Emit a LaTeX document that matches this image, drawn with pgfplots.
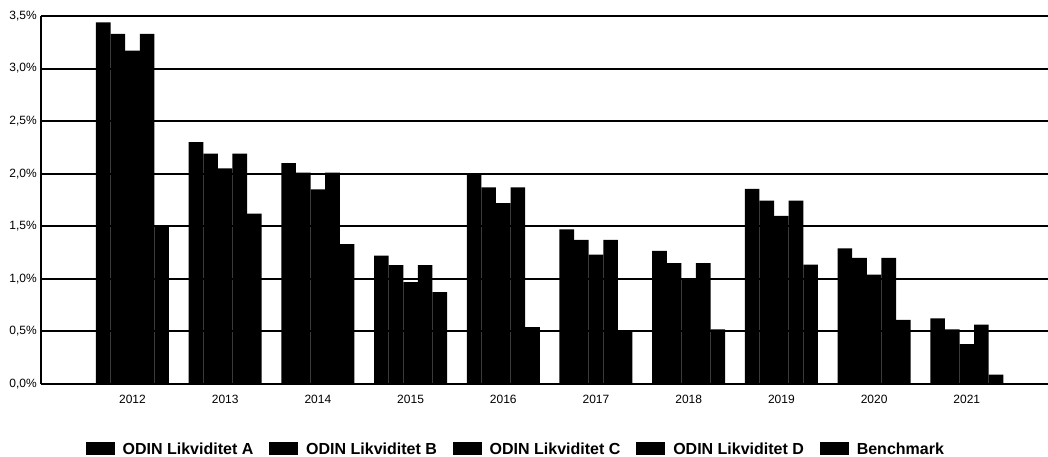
\documentclass[border=0pt]{standalone}
\usepackage{fontspec}
\setmainfont{Liberation Sans}
\usepackage{pgfplots}
\usepackage{pgfplotstable}
\pgfplotsset{compat=1.18}
\pgfplotstableread{
x A B C D E
0 3.44 3.33 3.17 3.33 1.51
1 2.30 2.19 2.05 2.19 1.62
2 2.10 2.01 1.85 2.01 1.33
3 1.22 1.13 0.97 1.13 0.875
4 1.99 1.87 1.72 1.87 0.54
5 1.47 1.37 1.23 1.37 0.50
6 1.265 1.15 1.005 1.15 0.52
7 1.855 1.745 1.60 1.745 1.135
8 1.29 1.20 1.04 1.20 0.61
9 0.625 0.52 0.38 0.565 0.09
}\data
\begin{document}
\begin{tikzpicture}
\begin{axis}[name=ax, scale only axis, width=755.25pt, height=276pt,
  ybar=0pt, bar width=0.1575,
  xmin=-0.987, xmax=9.876, ymin=0, ymax=3.5,
  ytick={0,0.5,1,1.5,2,2.5,3,3.5},
  xtick={0,1,2,3,4,5,6,7,8,9},
  xticklabels={2012,2013,2014,2015,2016,2017,2018,2019,2020,2021},
  axis lines=left, axis line style={-, line width=1.5pt, black},
  ymajorgrids, major grid style={black, line width=1.5pt},
  major tick length=0pt,
  /pgf/number format/assume math mode=true,
  yticklabel={\pgfmathprintnumber[fixed,fixed zerofill,precision=1,use comma]{\tick}\%},
  tick label style={font=\fontsize{9}{10}\selectfont, inner sep=0pt},
  yticklabel shift=3pt, xticklabel shift=8.5pt,
  legend columns=5,
  legend style={at={(0.5,0)}, anchor=south, yshift=-54.5pt, draw=none, fill=none, inner sep=0pt,
    font=\bfseries\fontsize{12}{14}\selectfont, nodes={inner sep=0pt},
    /tikz/every odd column/.append style={column sep=6pt},
    /tikz/every even column/.append style={column sep=0pt}},
  legend image code/.code={\fill[black] (0pt,-4pt) rectangle (21.75pt,5.6pt);},
  legend cell align=left,
  cycle list={{fill=black,draw=none}},
]
\addplot[fill=black,draw=none] table[x=x,y=A]{\data};
\addlegendentry{\makebox[109.9pt][l]{ODIN Likviditet A}}
\addplot[fill=black,draw=none] table[x=x,y=B]{\data};
\addlegendentry{\makebox[109.9pt][l]{ODIN Likviditet B}}
\addplot[fill=black,draw=none] table[x=x,y=C]{\data};
\addlegendentry{\makebox[109.9pt][l]{ODIN Likviditet C}}
\addplot[fill=black,draw=none] table[x=x,y=D]{\data};
\addlegendentry{\makebox[109.9pt][l]{ODIN Likviditet D}}
\addplot[fill=black,draw=none] table[x=x,y=E]{\data};
\addlegendentry{\makebox[109.9pt][l]{Benchmark}}
\end{axis}
\pgfresetboundingbox
\path[use as bounding box] ([xshift=-30.75pt,yshift=-54.75pt]ax.south west) rectangle ([yshift=12pt]ax.north east);
\end{tikzpicture}
\end{document}
